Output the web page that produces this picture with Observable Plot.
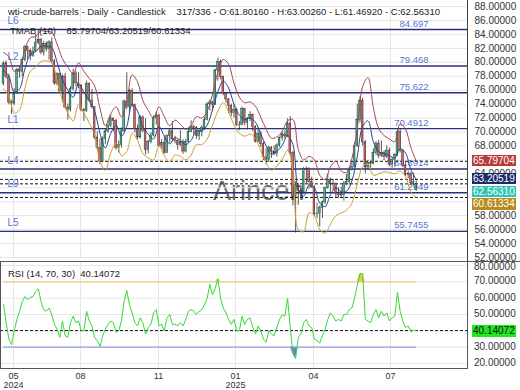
<!DOCTYPE html>
<html><head><meta charset="utf-8">
<script src="https://cdn.jsdelivr.net/npm/d3@7"></script>
<script src="https://cdn.jsdelivr.net/npm/@observablehq/plot@0.6"></script>
<style>
body{margin:0;background:#fff;}
#wrap{position:relative;width:520px;height:390px;overflow:hidden;font-family:"Liberation Sans",Arial,sans-serif;background:#fff;}
#wrap svg{position:absolute;left:0;}
.t{position:absolute;white-space:pre;font-size:9.5px;line-height:11px;color:#222;z-index:5;}
.ax{position:absolute;left:474px;white-space:pre;font-size:10px;line-height:10px;color:#333;z-index:6;}
.box{position:absolute;left:472px;width:43px;height:11.2px;font-size:10px;line-height:11.2px;padding-left:1px;white-space:pre;z-index:7;}
#wm{position:absolute;left:213px;top:178px;font-size:27px;line-height:27px;color:#4f4f4f;opacity:.82;}
.ln{position:absolute;background:#444;z-index:4;}
</style></head><body><div id="wrap"></div>
<script>
// ---- candles (2-day candles) ----
const open = [76.87,79.83,77.91,74.22,74.07,75.53,78.90,78.62,80.33,82.17,
81.63,80.90,81.54,82.81,83.16,81.41,82.62,81.91,82.85,80.13,
76.96,78.28,75.81,77.91,73.52,73.20,76.19,78.40,76.98,76.65,
73.17,73.01,76.90,74.52,73.55,69.20,67.67,65.75,68.97,70.09,
70.91,71.92,71.56,67.67,68.17,70.10,74.38,73.57,75.85,73.83,
70.39,69.22,72.09,70.19,67.38,68.61,69.49,71.99,72.36,68.04,
68.43,67.02,69.39,70.10,68.94,68.72,68.10,68.54,67.20,68.59,
70.02,70.71,70.58,69.46,70.10,70.60,71.72,73.96,74.25,73.92,
78.82,80.04,77.88,75.44,74.66,73.77,72.73,73.16,71.03,71.00,
73.32,71.29,71.85,72.48,70.70,68.62,69.76,68.26,66.36,66.03,
67.68,67.18,66.90,68.07,69.11,69.65,69.36,71.20,66.95,60.70,
62.35,61.50,61.33,64.68,64.67,62.79,62.05,58.21,58.29,59.09,
59.91,61.95,63.15,62.49,62.56,61.20,60.89,60.94,62.52,62.85,
64.58,64.98,67.97,71.77,74.50,68.51,64.92,65.52,65.45,67.00,
68.33,66.57,66.98,66.38,67.34,65.31,66.03,66.71,70.00,67.33,
65.16,63.88,63.96,62.65,61.80];
const high = [80.1,80.2,78.3,74.5,76.2,79.1,79.4,80.6,82.4,82.3,
81.9,82.2,84.0,84.6,83.4,83.0,82.9,83.1,83.5,80.4,
78.5,78.4,78.2,78.4,74.0,76.5,79.0,78.7,78.5,76.8,
73.4,77.3,77.0,76.1,73.6,70.0,69.0,69.3,70.4,71.6,
72.4,72.0,71.8,68.7,70.6,74.6,78.5,76.1,76.2,74.0,
71.0,72.4,72.3,71.9,68.8,69.9,72.3,72.8,72.5,68.9,
69.2,69.6,70.4,71.5,69.4,68.9,70.2,68.9,68.9,70.6,
71.6,71.0,70.8,70.3,70.9,72.1,74.2,74.6,74.4,79.0,
80.6,80.3,78.0,75.6,74.8,74.0,73.9,73.4,71.5,73.6,
73.4,72.1,72.9,72.6,70.9,70.6,70.1,68.5,67.6,68.0,
67.9,68.0,68.3,69.3,70.0,70.2,71.9,72.2,67.2,62.9,
62.6,62.0,64.9,65.0,64.9,63.5,62.3,59.8,59.4,60.1,
62.1,63.9,63.4,63.2,62.7,62.0,62.1,62.9,63.9,64.9,
65.7,68.5,74.0,75.0,74.8,68.8,65.9,65.8,67.6,68.6,
68.8,68.7,67.3,68.0,67.7,66.3,66.9,70.5,70.4,67.5,
65.6,64.4,64.2,64.1,63.0026];
const low = [76.6,77.6,73.9,72.5,73.8,75.4,77.7,77.9,80.1,80.4,
80.2,80.7,81.4,82.5,81.1,80.9,81.5,80.3,79.9,76.7,
76.6,75.5,74.2,73.3,71.7,72.9,75.9,76.5,76.2,72.9,
71.5,72.8,74.2,73.3,68.9,67.4,65.3,65.6,68.2,69.8,
70.6,70.0,67.4,67.0,67.7,69.9,73.2,72.8,73.5,69.9,
68.9,69.0,69.9,66.7,66.9,68.3,69.3,71.0,67.8,67.6,
66.8,66.9,68.4,68.7,68.3,67.4,67.9,66.8,67.0,68.4,
69.9,69.6,69.0,68.8,69.3,70.3,71.6,73.0,72.9,73.8,
77.3,77.5,75.2,74.1,72.6,72.2,72.0,70.8,70.2,70.9,
70.9,70.3,71.5,70.1,68.4,68.5,67.8,65.9,65.3,65.6,
66.2,66.6,66.4,67.8,68.7,69.0,69.2,66.6,59.4,55.5,
59.5,60.6,61.2,62.6,61.8,61.9,57.9,57.6,56.4,57.6,
59.6,61.8,61.3,61.6,60.6,60.5,60.4,60.1,62.3,62.4,
64.4,64.8,67.8,71.3,68.0,64.0,64.6,64.7,65.3,66.6,
66.2,66.4,65.9,66.2,65.0,64.8,64.9,66.5,67.0,64.9,
63.6,63.3,62.4,62.3,61.4692];
const close = [79.83,77.91,74.22,74.07,75.53,78.90,78.62,80.33,82.17,81.63,
80.90,81.54,82.81,83.16,81.41,82.62,81.91,82.85,80.13,76.96,
78.28,75.81,77.91,73.52,73.20,76.19,78.40,76.98,76.65,73.17,
73.01,76.90,74.52,73.55,69.20,67.67,65.75,68.97,70.09,70.91,
71.92,71.56,67.67,68.17,70.10,74.38,73.57,75.85,73.83,70.39,
69.22,72.09,70.19,67.38,68.61,69.49,71.99,72.36,68.04,68.43,
67.02,69.39,70.10,68.94,68.72,68.10,68.54,67.20,68.59,70.02,
70.71,70.58,69.46,70.10,70.60,71.72,73.96,74.25,73.92,78.82,
80.04,77.88,75.44,74.66,73.77,72.73,73.16,71.03,71.00,73.32,
71.29,71.85,72.48,70.70,68.62,69.76,68.26,66.36,66.03,67.68,
67.18,66.90,68.07,69.11,69.65,69.36,71.20,66.95,60.70,62.35,
61.50,61.33,64.68,64.67,62.79,62.05,58.21,58.29,59.09,59.91,
61.95,63.15,62.49,62.56,61.20,60.89,60.94,62.52,62.85,64.58,
64.98,67.97,71.77,74.50,68.51,64.92,65.52,65.45,67.00,68.33,
66.57,66.98,66.38,67.34,65.31,66.03,66.71,70.00,67.33,65.16,
63.88,63.96,62.65,62.80,62.5631];

// ---- TMAB (10) bands, every second candle ----
const upper = [81.4,80.8,78.7,79.2,81.9,83.5,83.7,84.5,84.4,84.3,
82.6,80.5,79.3,78.4,79.9,78.7,77.7,76.6,73.4,70.9,
72.6,73.6,72.2,74.4,78.2,77.2,74.5,73.1,72.0,73.6,
72.2,70.9,71.7,71.1,70.4,70.9,72.2,72.0,73.0,75.4,
78.6,80.4,79.7,77.0,75.0,74.2,74.3,73.7,72.1,70.4,
69.1,69.3,70.1,71.6,71.8,67.5,66.0,66.5,66.0,63.8,
63.2,65.0,65.8,64.4,64.2,66.2,70.5,76.5,77.8,73.5,
70.5,69.5,69.0,68.6,71.2,70.4,67.8,65.79704];
const middle = [78.8,78.0,75.7,76.2,79.1,81.1,81.5,82.3,82.3,82.1,
80.0,77.5,76.0,75.0,76.9,75.7,74.5,73.0,69.8,67.7,
69.8,71.0,69.4,70.8,74.0,73.0,70.7,69.7,69.0,70.8,
69.4,68.3,69.2,68.8,68.2,68.8,70.2,70.1,71.0,73.2,
75.8,77.3,76.3,74.0,72.4,71.8,72.0,71.4,69.7,68.0,
66.8,67.2,68.1,69.5,68.2,61.8,60.8,62.4,62.0,59.8,
59.3,61.0,62.0,61.4,61.5,63.0,66.5,70.8,71.6,68.6,
67.2,66.9,66.6,66.3,67.6,67.0,64.6,63.20519];
const lower = [76.2,75.2,72.7,73.2,76.3,78.7,79.3,80.1,80.2,79.9,
77.4,74.5,72.7,71.6,73.9,72.7,71.3,69.6,65.8,64.5,
67.0,68.4,66.6,67.2,69.8,68.8,66.9,66.3,66.0,68.0,
66.6,65.7,66.7,66.5,66.0,66.7,68.2,68.2,69.0,71.0,
73.0,74.2,72.9,71.0,69.8,69.4,69.7,69.1,67.3,65.6,
64.5,65.1,66.1,67.4,64.6,56.0,55.7,58.4,58.0,56.0,
55.5,56.8,58.0,58.4,58.8,59.8,62.5,65.0,65.4,63.8,
64.0,64.3,64.2,64.0,64.4,63.6,61.4,60.61334];

// ---- RSI (14) ----
const rsi = [56,45,35,31.5,40,47,52,58,61,59,
60.5,61,64,65.7,58,53,52,54,50,44,
41,36,46,37,36,45,49,45,46,40,
40,52,46,43,36,34,30.4,37,41,44,
46,45,39,40,46,58,64.7,56,51,45,
43,48,45,38,42,44,51,53,43,44,
40,48,50,44,44,43,45,43,47,52,
53,52,50,52,53,56,60,68.5,62,66,
71.8,60,54,51,47,44,47,40,40,49,
44,47,48,42,38,43,40,35,33,40,
38,37,42,47,50,49,60,42,26,23,
36,38,45,47,43,42,35,34,32.5,37,
41,47,51,49,46,47,46,50,50,53,
54,60,68,75,75,47,46,45,50,53,
48,52,49,51,46,48,49,63.7,52,46,
42,43,39.5,40.5,40.14072];

// ---- levels, last values, ticks ----
const levelValues = [84.697, 79.468, 75.622, 70.4912, 64.6914, 61.2949, 55.7455];
const levelLabels = ["84.697", "79.468", "75.622", "70.4912", "64.6914", "61.2949", "55.7455"];
const levelNames = ["L6", "L2", "", "L1", "L4", "L0", "L5"];
const lastValues = [65.79704, 63.20519, 62.56310, 60.61334];
const lastLabels = ["65.79704", "63.20519", "62.56310", "60.61334"];
const rsiLast = 40.14072;
const monthTicks = [3.73, 28.73, 57.84, 86.57, 115.67, 144.4];
const monthLabels = ["05\n2024", "08", "11", "01\n2025", "04", "07"];
const priceGrid = d3.range(52, 89, 2);
const priceTickLabels = [88, 86, 84, 82, 80, 78, 76, 74, 72, 70, 68, 64, 58, 56, 54, 52];
const rsiTicks = [20, 30, 40, 50, 60, 70, 80];

// ---- build ----
const N = close.length;
const candles = d3.range(N).map(i => ({i, o: open[i], h: high[i], l: low[i], c: close[i]}));
const bands = upper.map((u, j) => ({k: j * 2, u, m: middle[j], lo: lower[j]}));
const rsiData = rsi.map((r, i) => ({i, r}));
const xDomain = [-1.12, 173.13];
const FONT = '"Liberation Sans", Arial, sans-serif';
const UP = "#3fb68b", DOWN = "#e0605f";

const main = Plot.plot({
  width: 520, height: 261,
  marginLeft: 0, marginRight: 53, marginTop: 6, marginBottom: 4,
  style: {fontFamily: FONT, fontSize: "10px", background: "transparent", overflow: "visible", color: "#333"},
  x: {domain: xDomain, axis: null},
  y: {domain: [52, 88], axis: "right", ticks: priceTickLabels, tickFormat: d => d.toFixed(5), tickSize: 0, tickPadding: 7, label: null},
  marks: [
    Plot.ruleY(priceGrid, {stroke: "#e6e6e6"}),
    Plot.ruleX(monthTicks, {stroke: "#e6e6e6"}),
    Plot.ruleY(levelValues, {stroke: "#27307c", strokeWidth: 1.4}),
    Plot.ruleY(lastValues, {stroke: "#111", strokeDasharray: "3,2"}),
    Plot.text(levelValues, {y: d => d, text: (d, i) => levelLabels[i], frameAnchor: "right", dx: -39, dy: -3, textAnchor: "end", lineAnchor: "bottom", fill: "#5677cf", fontSize: 9.5}),
    Plot.text(levelValues, {y: d => d, text: (d, i) => levelNames[i], frameAnchor: "left", dx: 7, dy: -5.5, textAnchor: "start", lineAnchor: "bottom", fill: "#5677cf", fontSize: 10}),
    Plot.ruleX(candles, {x: "i", y1: "l", y2: "h", stroke: "#2d2d2d", strokeWidth: 0.8}),
    Plot.rect(candles, {filter: d => d.c >= d.o, x1: d => d.i - 0.33, x2: d => d.i + 0.33, y1: "o", y2: "c", fill: UP, stroke: "#2d2d2d", strokeWidth: 0.45}),
    Plot.rect(candles, {filter: d => d.c < d.o, x1: d => d.i - 0.33, x2: d => d.i + 0.33, y1: "o", y2: "c", fill: DOWN, stroke: "#2d2d2d", strokeWidth: 0.45}),
    Plot.line(bands, {x: "k", y: "u", stroke: "#a24552", strokeWidth: 1, curve: "catmull-rom"}),
    Plot.line(bands, {x: "k", y: "lo", stroke: "#c9a030", strokeWidth: 1, curve: "catmull-rom"}),
    Plot.line(bands, {x: "k", y: "m", stroke: "#24478a", strokeWidth: 1, curve: "catmull-rom"})
  ]
});

const rsiPlot = Plot.plot({
  width: 520, height: 129,
  marginLeft: 0, marginRight: 53, marginTop: 0, marginBottom: 22,
  style: {fontFamily: FONT, fontSize: "10px", background: "transparent", overflow: "visible", color: "#333"},
  x: {domain: xDomain, axis: null},
  y: {domain: [16.93, 82.45], axis: null},
  marks: [
    Plot.ruleY(rsiTicks, {stroke: "#e6e6e6"}),
    Plot.ruleX(monthTicks, {stroke: "#e6e6e6"}),
    Plot.areaY(rsiData, {x: "i", y1: () => 70, y2: d => Math.max(d.r, 70), fill: "#f2c24e"}),
    Plot.areaY(rsiData, {x: "i", y1: () => 30, y2: d => Math.min(d.r, 30), fill: "#6b7fd6"}),
    Plot.ruleY([70], {x1: () => 0, x2: () => N - 1, stroke: "#f0cd7e", strokeWidth: 1.3}),
    Plot.ruleY([30], {x1: () => 0, x2: () => N - 1, stroke: "#9a9ade", strokeWidth: 1.2}),
    Plot.ruleY([rsiLast], {stroke: "#111", strokeDasharray: "3,2"}),
    Plot.line(rsiData, {x: "i", y: "r", stroke: "#35d935", strokeWidth: 1}),
    Plot.frame({stroke: "#555"}),
    Plot.text(monthTicks, {x: d => d, text: (d, i) => monthLabels[i], frameAnchor: "bottom", lineAnchor: "top", dy: 4.5, fontSize: 9, lineHeight: 1, fill: "#333"})
  ]
});

const wrap = document.getElementById("wrap");
const wm = document.createElement("div");
wm.id = "wm"; wm.textContent = "Arincen";
wrap.appendChild(wm);
main.style.top = "0px";
rsiPlot.style.top = "261px";
wrap.appendChild(main);
wrap.appendChild(rsiPlot);

function addLine(l, t, w, h, c) {
  const d = document.createElement("div");
  d.className = "ln";
  Object.assign(d.style, {left: l + "px", top: t + "px", width: w + "px", height: h + "px", background: c});
  wrap.appendChild(d);
}
addLine(0, 260.5, 520, 1, "#555");
addLine(466.5, 0, 1, 261, "#444");

function addText(cls, txt, l, t) {
  const d = document.createElement("div");
  d.className = cls; d.textContent = txt;
  d.style.left = l + "px"; d.style.top = t + "px";
  wrap.appendChild(d);
  return d;
}
addText("t", "wti-crude-barrels - Daily - Candlestick    317/336 - O:61.80160 - H:63.00260 - L:61.46920 - C:62.56310", 8, 6);
addText("t", "TMAB (10)    " + lastLabels[0] + "/" + lastLabels[1] + "/" + lastLabels[3], 10, 24.5);
addText("t", "RSI (14, 70, 30)  " + rsiLast.toFixed(5), 8, 268);

// RSI axis labels placed with the RSI plot's own y scale
const yr = rsiPlot.scale("y");
rsiTicks.forEach(v => {
  const c = yr.apply(v) + 261;
  addText("ax", v.toFixed(5), 474, c - 5 + (v === 80 ? 1.5 : 0));
});

const ys = main.scale("y");
const boxStyles = [["#b83b3c", "#fff"], ["#1c2a6c", "#fff"], ["#34c3b2", "#f4fffd"], ["#b98b1c", "#fff"]];
const H = 11.2, GAP = 1.4;
let prevBottom = -Infinity;
lastValues.forEach((v, i) => {
  let c = ys.apply(v);
  if (c - H / 2 < prevBottom + GAP) c = prevBottom + GAP + H / 2;
  prevBottom = c + H / 2;
  const d = document.createElement("div");
  d.className = "box"; d.textContent = lastLabels[i];
  d.style.top = (c - H / 2) + "px";
  d.style.background = boxStyles[i][0]; d.style.color = boxStyles[i][1];
  wrap.appendChild(d);
});
const rc = yr.apply(rsiLast) + 261;
const rb = document.createElement("div");
rb.className = "box"; rb.textContent = rsiLast.toFixed(5);
rb.style.top = (rc - H / 2 + 1) + "px";
rb.style.background = "#22e622"; rb.style.color = "#111";
wrap.appendChild(rb);
</script>
</body></html>
